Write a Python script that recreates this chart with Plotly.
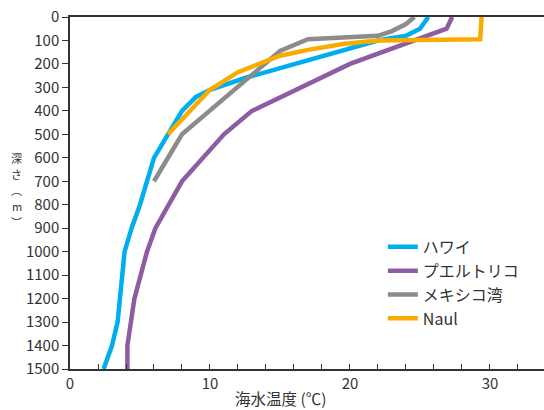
import plotly.graph_objects as go

hawaii_t = [25.6, 25.0, 24.0, 22.0, 12.5, 10.0, 9.0, 8.0, 6.0, 5.5, 5.0, 4.4, 3.9, 3.4, 3.0, 2.4]
hawaii_d = [0, 50, 80, 100, 260, 310, 340, 400, 600, 700, 800, 900, 1000, 1300, 1400, 1500]

puerto_t = [27.3, 26.9, 20.0, 13.0, 11.0, 8.0, 6.1, 5.5, 4.6, 4.1, 4.1]
puerto_d = [0, 50, 200, 400, 500, 700, 900, 1000, 1200, 1400, 1500]

mexico_t = [24.6, 24.0, 23.0, 22.0, 17.0, 15.0, 8.0, 6.0]
mexico_d = [0, 30, 60, 80, 95, 145, 500, 700]

naul_t = [29.4, 29.3, 22.0, 19.5, 17.0, 15.0, 12.0, 10.0, 7.0]
naul_d = [0, 95, 100, 115, 140, 165, 235, 310, 500]

names = ["ハワイ", "プエルトリコ", "メキシコ湾", "Naul"]
colors = ["rgb(0,174,239)", "rgb(142,92,163)", "rgb(140,140,140)", "rgb(248,171,0)"]

y_ticks = list(range(0, 1501, 100))
x_ticks = [0, 10, 20, 30]

x_title = "海水温度 (℃)"
y_title_chars = ["深", "さ", "︵", "m", "︶"]

font = "Noto Sans CJK JP, Noto Sans, sans-serif"

fig = go.Figure()
for t, d, n, c in zip([hawaii_t, puerto_t, mexico_t, naul_t],
                      [hawaii_d, puerto_d, mexico_d, naul_d], names, colors):
    fig.add_trace(go.Scatter(x=t, y=d, name=n, mode="lines",
                             line=dict(color=c, width=4.5)))

fig.update_layout(
    width=544, height=410,
    margin=dict(l=70, r=0, t=17, b=41),
    paper_bgcolor="white", plot_bgcolor="white",
    font=dict(family=font, size=15, color="#333"),
    showlegend=True,
    legend=dict(x=0.66, y=0.395, xanchor="left", yanchor="top",
                bgcolor="rgba(0,0,0,0)", font=dict(size=16, color="#333"),
                tracegroupgap=0, itemwidth=30),
    xaxis=dict(range=[0, 33.86], tickvals=x_ticks, ticks="inside", ticklen=5,
               tickcolor="#333", showline=True, linecolor="#333", linewidth=1.5,
               mirror=True, showgrid=False, zeroline=False,
               minor=dict(dtick=2, ticks="inside", ticklen=5, tickcolor="#333", showgrid=False),
               tickfont=dict(size=15)),
    yaxis=dict(range=[1500, 0], tickvals=y_ticks, ticks="outside", ticklen=6,
               tickcolor="#333", showline=True, linecolor="#333", linewidth=1.5,
               showgrid=False, zeroline=False, tickfont=dict(size=15)),
)

fig.add_annotation(text=x_title, xref="paper", yref="paper",
                   x=(280 - 70) / 474, y=0, yshift=-29, showarrow=False,
                   font=dict(size=15.5, color="#333"), xanchor="center", yanchor="middle")

y_centers_px = [158, 174, 190, 206, 222]
for ch, ypx in zip(y_title_chars, y_centers_px):
    fig.add_annotation(text=ch, xref="paper", yref="paper",
                       x=0, xshift=-53.5, y=(369 - ypx) / 352, showarrow=False,
                       font=dict(size=11, color="#333"), xanchor="center", yanchor="middle")

fig.write_html("out.html", config={"displayModeBar": False},
               post_script="document.body.style.margin='0';document.body.style.overflow='hidden';")
